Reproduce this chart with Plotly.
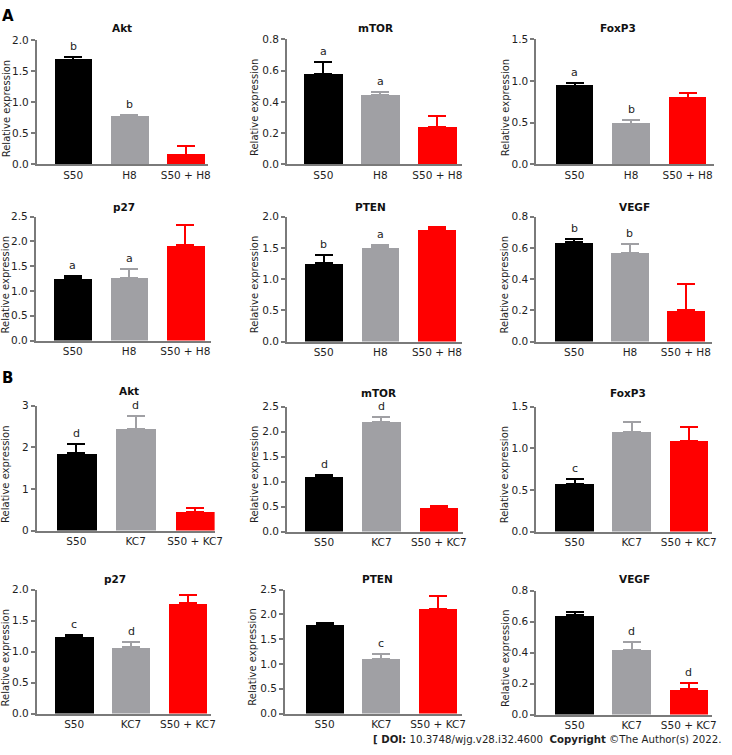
import plotly.graph_objects as go

# ---------------- data ----------------
groups_A = ["S50", "H8", "S50 + H8"]
groups_B = ["S50", "KC7", "S50 + KC7"]
genes = ["Akt", "mTOR", "FoxP3", "p27", "PTEN", "VEGF"]

# Panel A (mean, upper error, significance letter)
A_akt = [1.69, 0.77, 0.16]
A_akt_err = [0.04, 0.03, 0.13]
A_akt_sig = ["b", "b", ""]
A_mtor = [0.578, 0.443, 0.237]
A_mtor_err = [0.079, 0.021, 0.07]
A_mtor_sig = ["a", "a", ""]
A_foxp3 = [0.945, 0.49, 0.80]
A_foxp3_err = [0.027, 0.045, 0.055]
A_foxp3_sig = ["a", "b", ""]
A_p27 = [1.26, 1.27, 1.92]
A_p27_err = [0.05, 0.17, 0.41]
A_p27_sig = ["a", "a", ""]
A_pten = [1.25, 1.51, 1.80]
A_pten_err = [0.13, 0.04, 0.04]
A_pten_sig = ["b", "a", ""]
A_vegf = [0.636, 0.569, 0.20]
A_vegf_err = [0.021, 0.055, 0.167]
A_vegf_sig = ["b", "b", ""]

# Panel B
B_akt = [1.85, 2.44, 0.455]
B_akt_err = [0.22, 0.31, 0.095]
B_akt_sig = ["d", "d", ""]
B_mtor = [1.10, 2.20, 0.486]
B_mtor_err = [0.03, 0.10, 0.024]
B_mtor_sig = ["d", "d", ""]
B_foxp3 = [0.57, 1.20, 1.09]
B_foxp3_err = [0.06, 0.11, 0.17]
B_foxp3_sig = ["c", "", ""]
B_p27 = [1.243, 1.07, 1.78]
B_p27_err = [0.032, 0.09, 0.13]
B_p27_sig = ["c", "d", ""]
B_pten = [1.80, 1.10, 2.11]
B_pten_err = [0.03, 0.10, 0.27]
B_pten_sig = ["", "c", ""]
B_vegf = [0.641, 0.417, 0.163]
B_vegf_err = [0.021, 0.049, 0.042]
B_vegf_sig = ["", "d", "d"]

A_ticks = {"Akt": [0, 0.5, 1.0, 1.5, 2.0], "mTOR": [0, 0.2, 0.4, 0.6, 0.8],
           "FoxP3": [0, 0.5, 1.0, 1.5], "p27": [0, 0.5, 1.0, 1.5, 2.0, 2.5],
           "PTEN": [0, 0.5, 1.0, 1.5, 2.0], "VEGF": [0, 0.2, 0.4, 0.6, 0.8]}
B_ticks = {"Akt": [0, 1, 2, 3], "mTOR": [0, 0.5, 1.0, 1.5, 2.0, 2.5],
           "FoxP3": [0, 0.5, 1.0, 1.5], "p27": [0, 0.5, 1.0, 1.5, 2.0],
           "PTEN": [0, 0.5, 1.0, 1.5, 2.0, 2.5], "VEGF": [0, 0.2, 0.4, 0.6, 0.8]}

# ---------------- layout helpers ----------------
W, H = 732, 755
COLORS = ["#000000", "#a0a0a4", "#ff0000"]
FONT = "DejaVu Sans, Verdana, sans-serif"
AXC = "#7a7a7a"
TXT = "#1e1e1e"

panels = [
    # (gene, groups, means, errs, sigs, ticks, fmt, left, right, top, bottom, xlo, xhi, title_x, title_y, ytitle_x)
    ("Akt", groups_A, A_akt, A_akt_err, A_akt_sig, A_ticks["Akt"], ".1f", 37, 210, 35, 161, -0.65, 2.39, 123, 22, 6),
    ("mTOR", groups_A, A_mtor, A_mtor_err, A_mtor_sig, A_ticks["mTOR"], ".1f", 290, 467, 34, 161, -0.64, 2.43, 380, 22, 258),
    ("FoxP3", groups_A, A_foxp3, A_foxp3_err, A_foxp3_sig, A_ticks["FoxP3"], ".1f", 542, 722, 34, 161, -0.68, 2.47, 625, 22, 511),
    ("p27", groups_A, A_p27, A_p27_err, A_p27_sig, A_ticks["p27"], ".1f", 36, 213, 214, 340, -0.66, 2.45, 125, 204, 6),
    ("PTEN", groups_A, A_pten, A_pten_err, A_pten_sig, A_ticks["PTEN"], ".1f", 290, 467, 214, 341, -0.65, 2.44, 375, 204, 258),
    ("VEGF", groups_A, A_vegf, A_vegf_err, A_vegf_sig, A_ticks["VEGF"], ".1f", 542, 720, 214, 341, -0.68, 2.47, 642, 204, 511),
    ("Akt", groups_B, B_akt, B_akt_err, B_akt_sig, B_ticks["Akt"], "d", 37, 217, 406, 533, -0.67, 2.33, 130, 391, 6),
    ("mTOR", groups_B, B_mtor, B_mtor_err, B_mtor_sig, B_ticks["mTOR"], ".1f", 290, 468, 407, 534, -0.65, 2.42, 383, 393, 258),
    ("FoxP3", groups_B, B_foxp3, B_foxp3_err, B_foxp3_sig, B_ticks["FoxP3"], ".1f", 542, 720, 407, 534, -0.675, 2.41, 635, 393, 511),
    ("p27", groups_B, B_p27, B_p27_err, B_p27_sig, B_ticks["p27"], ".1f", 37, 213, 593, 719, -0.66, 2.40, 116, 582, 6),
    ("PTEN", groups_B, B_pten, B_pten_err, B_pten_sig, B_ticks["PTEN"], ".1f", 288, 467, 593, 719, -0.70, 2.42, 382, 582, 255),
    ("VEGF", groups_B, B_vegf, B_vegf_err, B_vegf_sig, B_ticks["VEGF"], ".1f", 542, 720, 594, 720, -0.675, 2.41, 642, 582, 511),
]

fig = go.Figure()
annotations = []
layout = {}

for k, (gene, groups, means, errs, sigs, ticks, fmt, L, R, T, B, xlo, xhi, tx, ty, ytx) in enumerate(panels):
    n = k + 1
    xa = "x" if n == 1 else f"x{n}"
    ya = "y" if n == 1 else f"y{n}"
    for i in range(3):
        fig.add_trace(go.Bar(
            x=[i], y=[means[i]], width=0.67,
            marker=dict(color=COLORS[i], line=dict(width=0)),
            error_y=dict(type="data", symmetric=False, array=[errs[i]], arrayminus=[0],
                         color=COLORS[i], thickness=2, width=9),
            xaxis=xa, yaxis=ya, showlegend=False, hoverinfo="skip",
        ))
        if sigs[i]:
            annotations.append(dict(
                x=i, y=means[i] + errs[i], xref=xa, yref=ya, text=sigs[i],
                showarrow=False, yanchor="bottom", yshift=2,
                font=dict(family=FONT, size=11, color=TXT)))
    xkey = "xaxis" if n == 1 else f"xaxis{n}"
    ykey = "yaxis" if n == 1 else f"yaxis{n}"
    layout[xkey] = dict(
        domain=[L / W, R / W], anchor=ya, range=[xlo, xhi],
        tickmode="array", tickvals=[0, 1, 2], ticktext=groups,
        showline=True, linecolor=AXC, linewidth=1.5, ticks="", showgrid=False,
        zeroline=False, fixedrange=True,
        tickfont=dict(family=FONT, size=10.5, color=TXT))
    layout[ykey] = dict(
        domain=[1 - B / H, 1 - T / H], anchor=xa, range=[0, ticks[-1]],
        tickmode="array", tickvals=ticks, tickformat=fmt,
        showline=True, linecolor=AXC, linewidth=1.5, ticks="outside",
        ticklen=4, tickwidth=1.5, tickcolor=AXC, showgrid=False, zeroline=False,
        fixedrange=True, tickfont=dict(family=FONT, size=10.5, color=TXT))
    # panel title
    annotations.append(dict(
        x=tx / W, y=1 - ty / H, xref="paper", yref="paper", text=f"<b>{gene}</b>",
        showarrow=False, xanchor="center", yanchor="middle",
        font=dict(family=FONT, size=10.5, color="#111111")))
    # y-axis title
    annotations.append(dict(
        x=ytx / W, y=1 - ((T + B) / 2 + 6) / H, xref="paper", yref="paper",
        text="Relative expression", textangle=-90, showarrow=False,
        xanchor="center", yanchor="middle",
        font=dict(family=FONT, size=10, color=TXT)))

# panel letters
annotations.append(dict(x=0, y=1 - 10 / H, xref="paper", yref="paper", text="<b>A</b>",
                        showarrow=False, xanchor="left", yanchor="middle",
                        font=dict(family=FONT, size=15, color="#000000")))
annotations.append(dict(x=0, y=1 - 378 / H, xref="paper", yref="paper", text="<b>B</b>",
                        showarrow=False, xanchor="left", yanchor="middle",
                        font=dict(family=FONT, size=15, color="#000000")))
# footer
annotations.append(dict(x=731 / W, y=1 - 745 / H, xref="paper", yref="paper",
                        text="<b>[ DOI:</b> 10.3748/wjg.v28.i32.4600  <b>Copyright</b> ©The Author(s) 2022.",
                        showarrow=False, xanchor="right", yanchor="middle",
                        font=dict(family=FONT, size=10.2, color=TXT)))

fig.update_layout(
    width=W, height=H, autosize=False,
    margin=dict(l=0, r=0, t=0, b=0),
    paper_bgcolor="white", plot_bgcolor="white",
    annotations=annotations, showlegend=False, bargap=0,
    **layout)

fig.write_html("out.html", config={"displayModeBar": False},
               post_script="document.body.style.margin='0px';")
